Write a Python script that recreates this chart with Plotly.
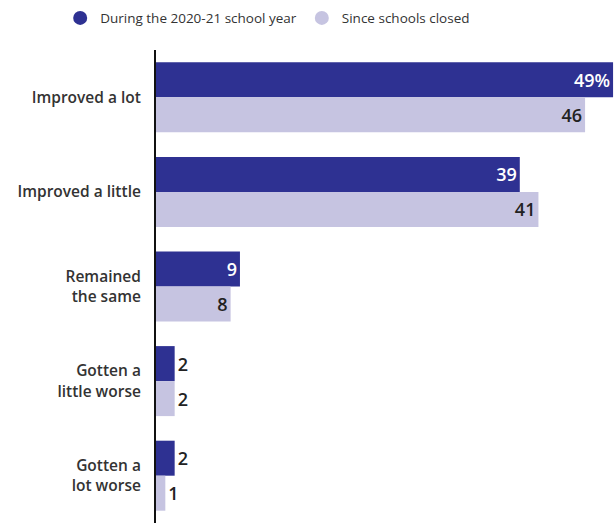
import plotly.graph_objects as go

categories = ["Improved a lot", "Improved a little", "Remained<br>the same",
              "Gotten a<br>little worse", "Gotten a<br>lot worse"]
series_names = ["During the 2020-21 school year", "Since schools closed"]
during = [49, 39, 9, 2, 2]
since = [46, 41, 8, 2, 1]
during_text = ["49%", "39", "9", "2", "2"]
since_text = ["46", "41", "8", "2", "1"]

dark = "#2E3192"
light = "#C6C4E1"
txt = "#222222"
font_fam = "Open Sans, Lato, sans-serif"

def positions(vals):
    return ["inside" if v >= 5 else "outside" for v in vals]

fig = go.Figure()
fig.add_trace(go.Bar(
    y=categories, x=during, orientation="h", name=series_names[0],
    marker=dict(color=dark, line=dict(width=0)),
    text=during_text, textposition=positions(during), insidetextanchor="end",
    insidetextfont=dict(color="white", size=18, family=font_fam, weight=600),
    outsidetextfont=dict(color=txt, size=18, family=font_fam, weight=600),
    cliponaxis=False, showlegend=False))
fig.add_trace(go.Bar(
    y=categories, x=since, orientation="h", name=series_names[1],
    marker=dict(color=light, line=dict(width=0)),
    text=since_text, textposition=positions(since), insidetextanchor="end",
    insidetextfont=dict(color=txt, size=18, family=font_fam, weight=600),
    outsidetextfont=dict(color=txt, size=18, family=font_fam, weight=600),
    cliponaxis=False, showlegend=False))
# legend entries with circle markers
for nm, col in zip(series_names, [dark, light]):
    fig.add_trace(go.Scatter(x=[None], y=[None], mode="markers", name=nm,
                             marker=dict(symbol="circle", size=14, color=col)))

fig.update_layout(
    width=614, height=523,
    margin=dict(l=156, r=0, t=50, b=0),
    paper_bgcolor="white", plot_bgcolor="white",
    barmode="group", bargap=0.26, bargroupgap=0,
    uniformtext=dict(mode=False),
    legend=dict(orientation="h", xref="container", yref="container",
                x=0.098, y=0.995, xanchor="left", yanchor="top",
                font=dict(family=font_fam, size=13.5, color="#333333"),
                itemwidth=30, tracegroupgap=0),
    xaxis=dict(range=[0, 49.1], visible=False, fixedrange=True),
    yaxis=dict(categoryorder="array", categoryarray=categories,
               autorange="reversed", showline=True, linecolor="#111111",
               linewidth=2, showgrid=False, zeroline=False, ticks="",
               ticklabelstandoff=10,
               tickfont=dict(family=font_fam, size=15.5, color="#333333", weight=600)),
    font=dict(family=font_fam),
)
fig.write_html("out.html")
